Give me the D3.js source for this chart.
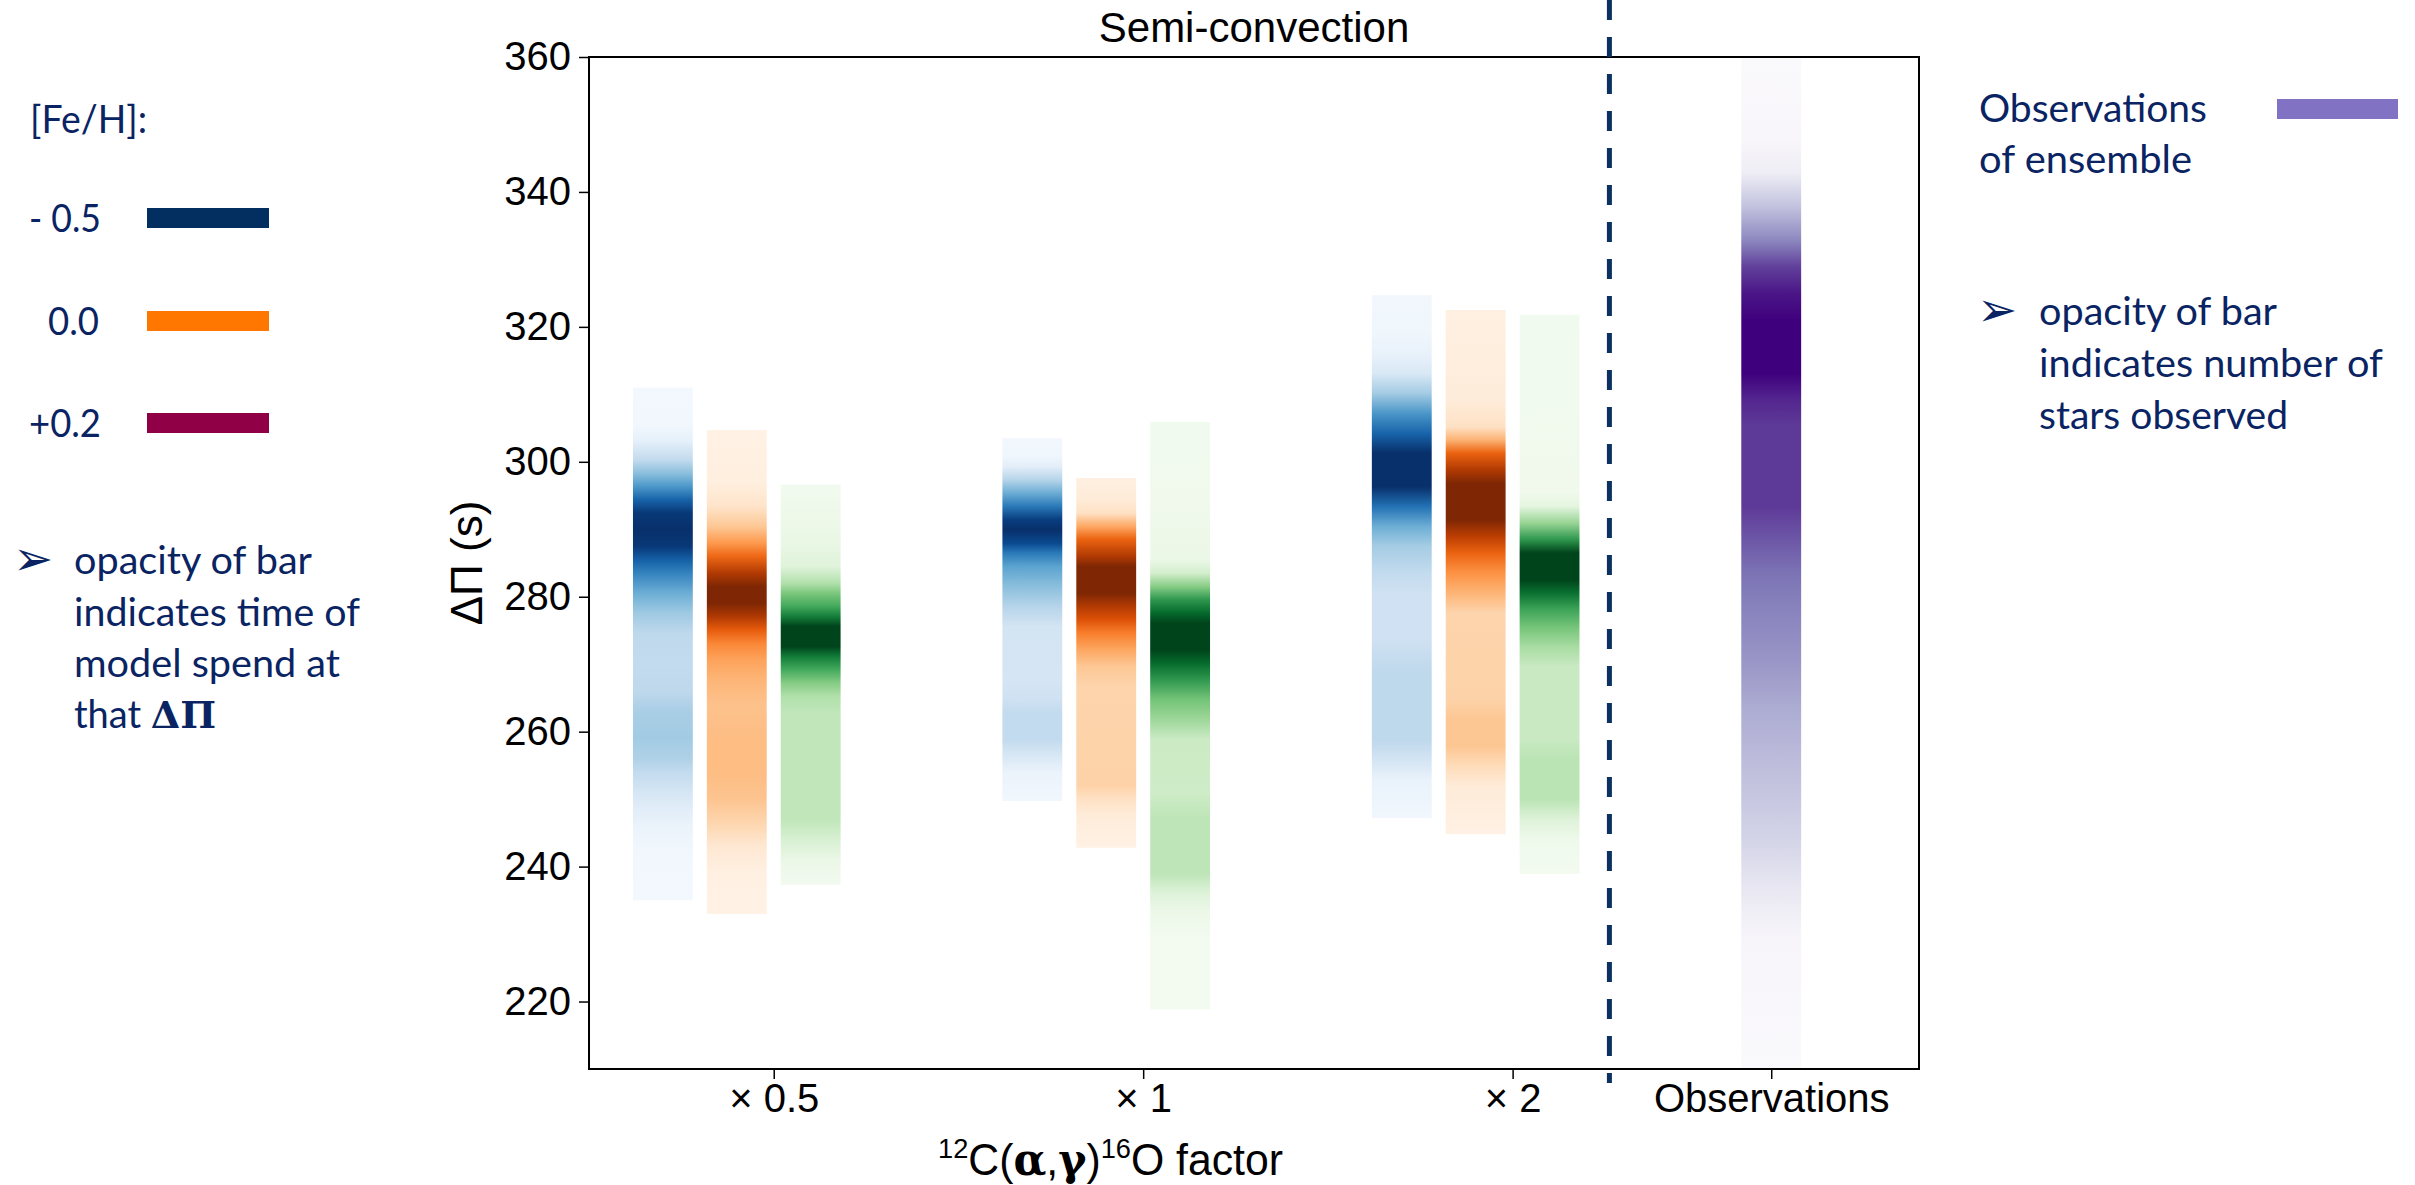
<!DOCTYPE html>
<html>
<head>
<meta charset="utf-8">
<script src="https://cdn.jsdelivr.net/npm/d3@7"></script>
<style>
	html, body { margin: 0; padding: 0; background: #fff; }
	svg { display: block; }
</style>
</head>
<body>
<div id="chart"></div>
<script>
// categories and positions on the x axis
var groupLabels = ["× 0.5", "× 1", "× 2"];
var groupPositions = [1, 2, 3];
var obsLabel = "Observations";
var obsPosition = 3.7;
var separatorPosition = 3.262;
var barOffsets = [-0.3, -0.1, 0.1];
var yTicks = [220, 240, 260, 280, 300, 320, 340, 360];

var fehLabels = ["- 0.5", "0.0", "+0.2"];
var fehColors = ["#032f60", "#ff7600", "#8f0047"];
var obsColor = "#8172c4";

// [ΔΠ, level 0..1], top to bottom
var bluesX05 = [[311, 0.02], [305.5, 0.03], [303.3, 0.08], [300.3, 0.25], [298.3, 0.42], [296.3, 0.6], [294.4, 0.8], [292.4, 0.97], [290, 1], [287.5, 0.97], [285.5, 0.82], [283.5, 0.68], [280.5, 0.5], [277.6, 0.37], [274.6, 0.27], [270, 0.25], [266, 0.27], [262.8, 0.34], [259, 0.36], [256, 0.32], [254, 0.25], [250, 0.14], [246, 0.06], [242, 0.03], [235, 0.02]];
var orangesX05 = [[304.7, 0.03], [297, 0.05], [293.4, 0.13], [290.4, 0.28], [288, 0.45], [286, 0.63], [283.5, 0.85], [281.5, 1], [279, 1], [277, 0.85], [275.1, 0.68], [273.1, 0.52], [270.7, 0.42], [267.7, 0.35], [263.8, 0.3], [258.8, 0.32], [254, 0.32], [250, 0.29], [246, 0.2], [243, 0.1], [239, 0.04], [233, 0.03]];
var greensX05 = [[296.6, 0.04], [291, 0.07], [287.5, 0.1], [284.5, 0.14], [282, 0.32], [280.5, 0.48], [278.6, 0.63], [277.1, 0.8], [275.6, 1], [272.6, 1], [271.2, 0.82], [269.2, 0.63], [267.2, 0.45], [265.2, 0.32], [262.8, 0.27], [247, 0.27], [244, 0.18], [241, 0.08], [237.3, 0.03]];

var bluesX1 = [[303.5, 0.03], [300.8, 0.04], [299.3, 0.1], [297.3, 0.3], [295.4, 0.5], [293.4, 0.72], [291.4, 0.95], [289.9, 1], [287.9, 0.9], [286.5, 0.72], [284.5, 0.55], [281.5, 0.42], [278.6, 0.3], [275.6, 0.18], [267.7, 0.17], [264.8, 0.2], [262.8, 0.25], [258.8, 0.25], [256.3, 0.15], [253.9, 0.06], [249.7, 0.03]];
var orangesX1 = [[297.6, 0.04], [294.4, 0.08], [292.4, 0.15], [290.4, 0.4], [288.5, 0.65], [286, 0.85], [284.5, 1], [280.5, 1], [278.6, 0.85], [276.6, 0.72], [274.6, 0.55], [272.1, 0.4], [269.7, 0.28], [266.7, 0.22], [252, 0.23], [250, 0.15], [247.5, 0.07], [242.8, 0.03]];
var greensX1 = [[305.9, 0.04], [293.4, 0.05], [285.5, 0.08], [283.5, 0.2], [281.5, 0.45], [279.6, 0.7], [277.6, 0.88], [276.1, 1], [272.1, 1], [270.2, 0.88], [267.7, 0.7], [264.8, 0.5], [261.8, 0.38], [258.8, 0.23], [250.9, 0.22], [247, 0.28], [239, 0.28], [236.1, 0.15], [233.1, 0.07], [229.2, 0.03], [218.8, 0.03]];

var bluesX2 = [[324.7, 0.03], [319.1, 0.04], [316.1, 0.07], [313.1, 0.15], [310.2, 0.35], [307.2, 0.6], [304.2, 0.8], [301.3, 1], [296.3, 1], [293.4, 0.75], [290.4, 0.5], [287.5, 0.35], [283.5, 0.25], [280.5, 0.2], [273.6, 0.2], [268.7, 0.27], [258.8, 0.27], [255.9, 0.18], [252.9, 0.07], [247.2, 0.03]];
var orangesX2 = [[322.5, 0.04], [309.2, 0.07], [305.2, 0.15], [303.3, 0.35], [301.3, 0.65], [298.8, 0.85], [296.8, 1], [291.4, 1], [288.9, 0.82], [286.5, 0.65], [283.5, 0.48], [280.5, 0.35], [277.6, 0.22], [264.8, 0.23], [261.8, 0.28], [257.8, 0.28], [254.9, 0.18], [251.9, 0.08], [244.8, 0.03]];
var greensX2 = [[321.8, 0.04], [295.4, 0.05], [293.4, 0.12], [290.9, 0.4], [288.5, 0.7], [286.5, 1], [282.5, 1], [280.5, 0.85], [278.1, 0.65], [275.6, 0.5], [272.6, 0.35], [269.7, 0.24], [258.8, 0.24], [255.9, 0.29], [250, 0.29], [247, 0.15], [244, 0.06], [238.9, 0.03]];

var obsProfile = [[360, 0.02], [347.7, 0.04], [342.8, 0.12], [337.8, 0.35], [332.9, 0.57], [328.9, 0.8], [325, 0.93], [321, 1], [313.1, 1], [309.2, 0.88], [305.2, 0.82], [293.4, 0.82], [289.4, 0.75], [283.5, 0.65], [278.6, 0.6], [273.6, 0.55], [268.7, 0.5], [263.8, 0.44], [258.8, 0.4], [253.9, 0.36], [249, 0.32], [244, 0.27], [239, 0.2], [234.1, 0.12], [229.2, 0.05], [210, 0.02]];

var DensityChart = (function () {
	function DensityChart() {
	}

	var width = 2415, height = 1185;
	var plot = { left: 589, right: 1919, top: 57, bottom: 1069 };
	var barWidth = 0.162;
	var axisFont = "'Liberation Sans', Arial, sans-serif";
	var noteFont = "Lato, 'Open Sans', sans-serif";
	var noteColor = "#0a2463";

	DensityChart.draw = function (elementId) {
		var svg = d3.select("#" + elementId).append("svg")
			.attr("width", width)
			.attr("height", height);
		var defs = svg.append("defs");

		var x = d3.scaleLinear().domain([0.5, 4.1]).range([plot.left, plot.right]);
		var y = d3.scaleLinear().domain([210, 360]).range([plot.bottom, plot.top]);

		var cmaps = [d3.interpolateBlues, d3.interpolateOranges, d3.interpolateGreens];
		var profiles = [
			[bluesX05, orangesX05, greensX05],
			[bluesX1, orangesX1, greensX1],
			[bluesX2, orangesX2, greensX2]
		];

		var bars = [];
		groupPositions.forEach(function (pos, g) {
			barOffsets.forEach(function (off, s) {
				bars.push({ center: pos + off, cmap: cmaps[s], profile: profiles[g][s] });
			});
		});
		bars.push({ center: obsPosition, cmap: d3.interpolatePurples, profile: obsProfile });

		bars.forEach(function (bar, i) {
			var top = bar.profile[0][0];
			var bottom = bar.profile[bar.profile.length - 1][0];
			var y0 = y(top), y1 = y(bottom);
			var grad = defs.append("linearGradient")
				.attr("id", "grad" + i)
				.attr("gradientUnits", "userSpaceOnUse")
				.attr("x1", 0).attr("x2", 0)
				.attr("y1", y0).attr("y2", y1);
			grad.selectAll("stop")
				.data(bar.profile)
				.enter()
					.append("stop")
						.attr("offset", function (d) { return (y(d[0]) - y0) / (y1 - y0); })
						.attr("stop-color", function (d) { return bar.cmap(d[1]); });

			svg.append("rect")
				.attr("x", x(bar.center - barWidth / 2))
				.attr("y", y0)
				.attr("width", x(barWidth) - x(0))
				.attr("height", y1 - y0)
				.attr("fill", "url(#grad" + i + ")");
		});

		// frame
		svg.append("rect")
			.attr("x", plot.left)
			.attr("y", plot.top)
			.attr("width", plot.right - plot.left)
			.attr("height", plot.bottom - plot.top)
			.attr("fill", "none")
			.attr("stroke", "#000")
			.attr("stroke-width", 2);

		var yAxis = svg.append("g")
			.attr("transform", "translate(" + plot.left + ",0)")
			.call(d3.axisLeft(y).tickValues(yTicks).tickSize(10).tickPadding(8));
		var xAxis = svg.append("g")
			.attr("transform", "translate(0," + plot.bottom + ")")
			.call(d3.axisBottom(x)
				.tickValues(groupPositions.concat([obsPosition]))
				.tickFormat(function (d, i) { return i < groupLabels.length ? groupLabels[i] : obsLabel; })
				.tickSize(10).tickPadding(5));
		[xAxis, yAxis].forEach(function (a) {
			a.select(".domain").remove();
			a.selectAll("line").attr("stroke-width", 1.5);
			a.selectAll("text")
				.attr("font-family", axisFont)
				.attr("font-size", 40)
				.attr("fill", "#000");
		});

		// separator between models and observations
		svg.append("line")
			.attr("x1", x(separatorPosition)).attr("x2", x(separatorPosition))
			.attr("y1", 0).attr("y2", plot.bottom + 14)
			.attr("stroke", "#0b3160")
			.attr("stroke-width", 5)
			.attr("stroke-dasharray", "20,17");

		svg.append("text")
			.attr("x", (plot.left + plot.right) / 2)
			.attr("y", 42)
			.attr("text-anchor", "middle")
			.attr("font-family", axisFont)
			.attr("font-size", 42)
			.text("Semi-convection");

		svg.append("text")
			.attr("transform", "translate(482," + ((plot.top + plot.bottom) / 2) + ") rotate(-90)")
			.attr("text-anchor", "middle")
			.attr("font-family", axisFont)
			.attr("font-size", 44)
			.text("ΔΠ (s)");

		writeXLabel(svg);
		writeNotes(svg);
	};

	function writeXLabel(svg) {
		var t = svg.append("text")
			.attr("x", 938)
			.attr("y", 1175)
			.attr("font-family", axisFont)
			.attr("font-size", 44)
			.attr("textLength", 345)
			.attr("lengthAdjust", "spacingAndGlyphs");
		t.append("tspan").attr("font-size", 28).attr("dy", -17).text("12");
		t.append("tspan").attr("dy", 17).text("C(");
		t.append("tspan").attr("font-family", "'DejaVu Serif', serif").attr("font-weight", "bold").text("α");
		t.append("tspan").text(",");
		t.append("tspan").attr("font-family", "'DejaVu Serif', serif").attr("font-weight", "bold").text("γ");
		t.append("tspan").text(")");
		t.append("tspan").attr("font-size", 28).attr("dy", -17).text("16");
		t.append("tspan").attr("dy", 17).text("O factor");
	}

	function noteLine(svg, x, y, str, len) {
		var t = svg.append("text")
			.attr("x", x)
			.attr("y", y)
			.attr("font-family", noteFont)
			.attr("font-size", 38)
			.attr("fill", noteColor)
			.text(str);
		if (len) {
			t.attr("textLength", len).attr("lengthAdjust", "spacingAndGlyphs");
		}
		return t;
	}

	function arrowBullet(svg, x, y) {
		svg.append("text")
			.attr("x", x)
			.attr("y", y)
			.attr("font-family", "'DejaVu Sans', sans-serif")
			.attr("font-size", 48)
			.attr("fill", noteColor)
			.text("➢");
	}

	function writeNotes(svg) {
		// left: metallicity key
		noteLine(svg, 30, 133, "[Fe/H]:", 117);
		var rowY = [218, 321, 423];
		fehLabels.forEach(function (lab, i) {
			var lx = lab === "0.0" ? 48 : 29;
			noteLine(svg, lx, rowY[i] + 14, lab, lab === "0.0" ? 51 : 72);
			svg.append("line")
				.attr("x1", 147).attr("x2", 269)
				.attr("y1", rowY[i]).attr("y2", rowY[i])
				.attr("stroke", fehColors[i])
				.attr("stroke-width", 20);
		});
		var bx = 74, by = 574;
		arrowBullet(svg, 13, by + 1);
		noteLine(svg, bx, by, "opacity of bar", 238);
		noteLine(svg, bx, by + 52, "indicates time of", 286);
		noteLine(svg, bx, by + 103, "model spend at", 266);
		var last = noteLine(svg, bx, by + 154, "that ");
		last.append("tspan")
			.attr("font-family", "'DejaVu Serif', serif")
			.attr("font-weight", "bold")
			.text("ΔΠ");

		// right: observations key
		noteLine(svg, 1979, 122, "Observations", 228);
		noteLine(svg, 1979, 173, "of ensemble", 213);
		svg.append("line")
			.attr("x1", 2277).attr("x2", 2398)
			.attr("y1", 109).attr("y2", 109)
			.attr("stroke", obsColor)
			.attr("stroke-width", 20);
		arrowBullet(svg, 1977, 326);
		noteLine(svg, 2039, 325, "opacity of bar", 238);
		noteLine(svg, 2039, 377, "indicates number of", 344);
		noteLine(svg, 2039, 429, "stars observed", 249);
	}

	return DensityChart;
})();

DensityChart.draw("chart");
</script>
</body>
</html>
